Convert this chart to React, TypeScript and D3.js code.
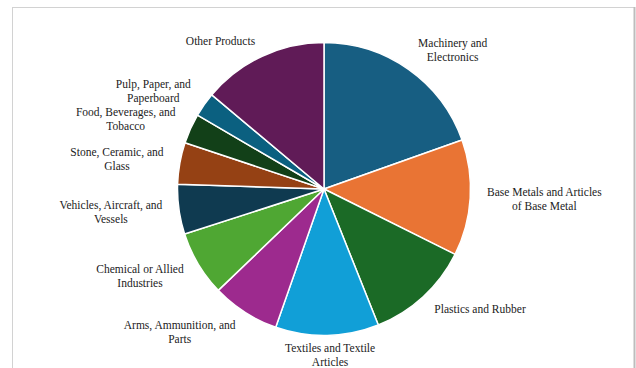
import React, { useMemo } from "react";
import * as d3 from "d3";

const categories = [
  "Machinery and Electronics",
  "Base Metals and Articles of Base Metal",
  "Plastics and Rubber",
  "Textiles and Textile Articles",
  "Arms, Ammunition, and Parts",
  "Chemical or Allied Industries",
  "Vehicles, Aircraft, and Vessels",
  "Stone, Ceramic, and Glass",
  "Food, Beverages, and Tobacco",
  "Pulp, Paper, and Paperboard",
  "Other Products",
];

const shares = [19.6, 12.8, 11.6, 11.4, 7.5, 7.2, 5.5, 4.6, 3.3, 2.7, 13.9];

const labelLines = [
  ["Machinery and", "Electronics"],
  ["Base Metals and Articles", "of Base Metal"],
  ["Plastics and Rubber"],
  ["Textiles and Textile", "Articles"],
  ["Arms, Ammunition, and", "Parts"],
  ["Chemical or Allied", "Industries"],
  ["Vehicles, Aircraft, and", "Vessels"],
  ["Stone, Ceramic, and", "Glass"],
  ["Food, Beverages, and", "Tobacco"],
  ["Pulp, Paper, and", "Paperboard"],
  ["Other Products"],
];

const colors = [
  "#175e82",
  "#e97434",
  "#1b6a26",
  "#119fd7",
  "#9d2a8e",
  "#4fa733",
  "#0f3a50",
  "#954114",
  "#124018",
  "#0b6080",
  "#601b57",
];

const W = 636;
const H = 368;
const CX = 324;
const CY = 189;
const R = 146.5;
const RL = 163;
const FONT_SIZE = 11.5;
const FONT_FAMILY = '"Liberation Serif", "DejaVu Serif", serif';
const LINE_H = 14;

export default function App() {
  const data = categories.map((c, i) => ({ name: c, value: shares[i], lines: labelLines[i], color: colors[i] }));
  const pie = d3
    .pie<any>()
    .sort(null)
    .value((d: any) => d.value)
    .startAngle(0)
    .endAngle(2 * Math.PI);
  const arcs = pie(data);
  const arc = d3.arc<any>().innerRadius(0).outerRadius(R);

  const measure = useMemo(() => {
    const canvas = document.createElement("canvas");
    const ctx = canvas.getContext("2d")!;
    ctx.font = `${FONT_SIZE}px ${FONT_FAMILY}`;
    return (s: string) => ctx.measureText(s).width;
  }, []);

  return (
    <svg
      width={W}
      height={H}
      style={{ position: "fixed", left: 0, top: 0, background: "#fff" }}
      fontFamily={FONT_FAMILY}
      fontSize={FONT_SIZE}
    >
      <rect x={12.5} y={7.5} width={622} height={420} fill="#fff" stroke="#d2d2d2" strokeWidth={1} />
      <line x1={634.5} x2={634.5} y1={7} y2={H} stroke="#bdbdbd" strokeWidth={2} />
      <g transform={`translate(${CX},${CY})`}>
        {arcs.map((a, i) => (
          <path key={i} d={arc(a) as string} fill={a.data.color} stroke="#fff" strokeWidth={1.5} strokeLinejoin="round" />
        ))}
        {arcs.map((a, i) => {
          const theta = (a.startAngle + a.endAngle) / 2;
          const s = Math.sin(theta);
          const c = Math.cos(theta);
          const px = RL * s;
          const py = -RL * c;
          const lines: string[] = a.data.lines;
          const w = Math.max(...lines.map(measure));
          const f = Math.max(-1, Math.min(1, 2.5 * s));
          const bx = px + (f * w) / 2;
          const by = py - (c * ((1 + Math.abs(f)) / 2) * (lines.length - 1) * LINE_H) / 2;
          return (
            <text key={`t${i}`} textAnchor="middle" fill="#222">
              {lines.map((ln, j) => (
                <tspan key={j} x={bx} y={by + (j - (lines.length - 1) / 2) * LINE_H + 3.8}>
                  {ln}
                </tspan>
              ))}
            </text>
          );
        })}
      </g>
    </svg>
  );
}
